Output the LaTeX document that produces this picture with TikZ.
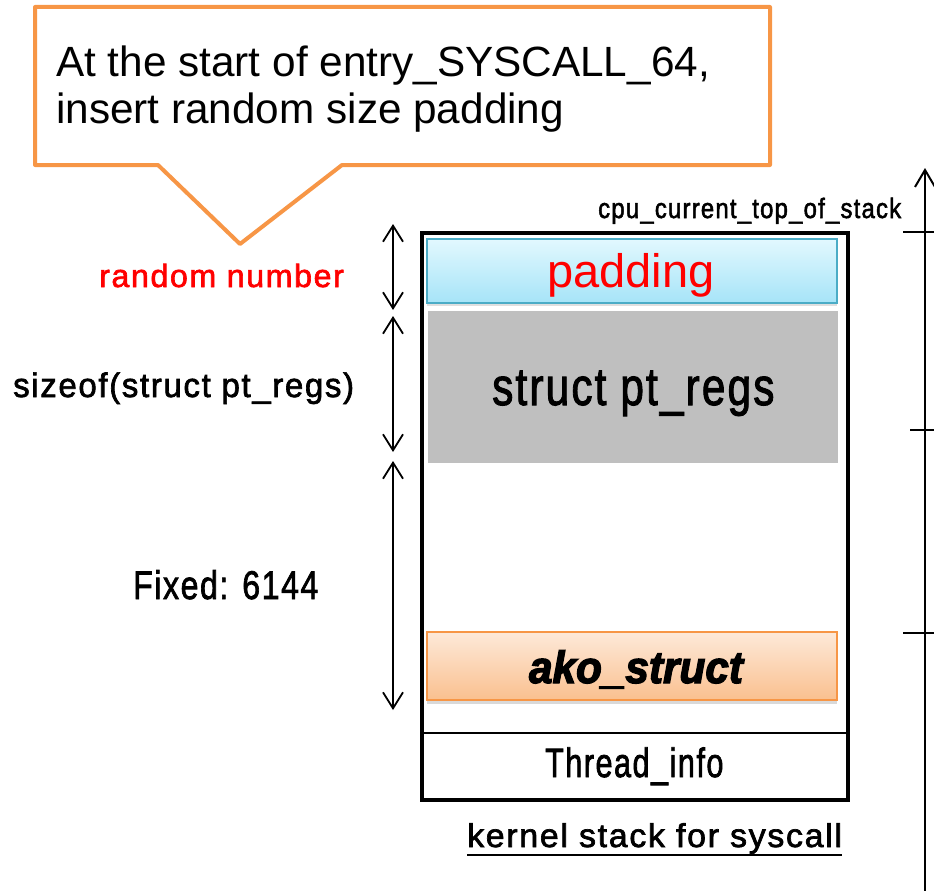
\documentclass[tikz,border=0pt]{standalone}
\usepackage{fontspec}
\usepackage{graphicx}
\setmainfont{Liberation Sans}
% heavier, loosely spaced face for the gothic-style labels
\newfontfamily\gothic[FakeBold=2,LetterSpace=5]{Liberation Sans}
\newfontfamily\gothicheavy[FakeBold=3]{Liberation Sans}
\usetikzlibrary{arrows.meta,shadows}

% horizontal stretch of a label and a font size in points
\newcommand\stretchx[2]{\scalebox{#1}[1]{#2}}
\newcommand\fsz[1]{\fontsize{#1}{#1}\selectfont}

\definecolor{calloutorange}{HTML}{F79646}
\definecolor{padborder}{HTML}{4BACC6}
\definecolor{padtop}{HTML}{E2F8FE}
\definecolor{padbottom}{HTML}{A6E4F8}
\definecolor{regsgray}{HTML}{BFBFBF}
\definecolor{akotop}{HTML}{FDE9D9}
\definecolor{akobottom}{HTML}{FAC08F}

\begin{document}
\begin{tikzpicture}[x=1pt,y=-1pt,
  lbl/.style={inner sep=0pt},
  dimline/.style={line width=1.8pt,{Straight Barb[length=16pt,width=20pt]}-{Straight Barb[length=16pt,width=20pt]}},
  axisline/.style={line width=2pt},
  stackbox/.style={draw=black,line width=4pt,minimum width=426pt,minimum height=567pt,inner sep=0pt},
  padbox/.style={draw=padborder,line width=1.8pt,top color=padtop,bottom color=padbottom,
    minimum width=410pt,minimum height=64pt,inner sep=0pt,
    drop shadow={opacity=0.25,shadow xshift=0pt,shadow yshift=-3pt}},
  regsbox/.style={fill=regsgray,minimum width=410pt,minimum height=152pt,inner sep=0pt},
  akobox/.style={draw=calloutorange,line width=1.8pt,top color=akotop,bottom color=akobottom,
    minimum width=410pt,minimum height=68pt,inner sep=0pt,
    drop shadow={opacity=0.3,shadow xshift=0pt,shadow yshift=-4pt}},
  callout/.style={draw=calloutorange,line width=4pt,fill=white,line join=round}
]
\useasboundingbox (0,0) rectangle (934,891);

% speech callout
\draw[callout] (35,7) -- (770,7) -- (770,165) -- (342,165) -- (240,244)
  -- (158,165) -- (35,165) -- cycle;
\node[lbl,anchor=base west,font=\fsz{42.3}] (note1) at (56,77) {At the start of entry\_SYSCALL\_64,};
\node[lbl,anchor=base west,font=\fsz{42.3}] (note2) at (56,123) {insert random size padding};

% kernel stack frame
\node[stackbox] (stack) at (635,516.5) {};
\node[padbox] (pad) at (632,271) {};
\node[lbl,anchor=base,font=\fsz{47},text=red] (padtext) at (631,287) {padding};
\node[regsbox] (regs) at (633,387) {};
\node[lbl,anchor=base west,font=\gothic\fsz{53}] (regstext) at (492,405) {\stretchx{0.80}{struct pt\_regs}};
\node[akobox] (ako) at (632,666) {};
\node[lbl,anchor=base,font=\gothicheavy\fsz{45}\bfseries\itshape] (akotext) at (636,683) {\stretchx{0.94}{ako\_struct}};
\coordinate (sepl) at (422,733);
\coordinate (sepr) at (848,733);
\draw[line width=1.8pt] (sepl) -- (sepr);
\node[lbl,anchor=base west,font=\gothic\fsz{41}] (tinfo) at (545,777) {\stretchx{0.745}{Thread\_info}};

% caption under the frame
\node[lbl,anchor=base west,font=\gothic\fsz{33}] (caption) at (467,847) {\stretchx{1.027}{kernel stack for syscall}};
\draw[line width=1.8pt] ([yshift=-8pt]caption.base west) -- ([yshift=-8pt]caption.base east);

% size markers on the left
\coordinate (d1a) at (393,224);
\coordinate (d1b) at (393,310);
\coordinate (d2a) at (393,316);
\coordinate (d2b) at (393,452);
\coordinate (d3a) at (393,461);
\coordinate (d3b) at (393,710);
\draw[dimline] (d1a) -- (d1b);
\draw[dimline] (d2a) -- (d2b);
\draw[dimline] (d3a) -- (d3b);

\node[lbl,anchor=base west,font=\gothic\fsz{32},text=red] (rnd) at (99,287) {\stretchx{1.005}{random number}};
\node[lbl,anchor=base west,font=\gothic\fsz{34}] (szof) at (13,397) {\stretchx{0.97}{sizeof(struct pt\_regs)}};
\node[lbl,anchor=base west,font=\gothic\fsz{40}] (fixed) at (133,599) {\stretchx{0.80}{Fixed: 6144}};

% address axis on the right
\coordinate (axbot) at (925,891);
\coordinate (axtop) at (925,168);
\draw[axisline,-{Straight Barb[length=17pt,width=20pt]}] (axbot) -- (axtop);
\coordinate (t1l) at (903,232);
\coordinate (t1r) at (934,232);
\coordinate (t2l) at (910,430);
\coordinate (t2r) at (934,430);
\coordinate (t3l) at (903,633);
\coordinate (t3r) at (934,633);
\draw[axisline] (t1l) -- (t1r);
\draw[axisline] (t2l) -- (t2r);
\draw[axisline] (t3l) -- (t3r);
\node[lbl,anchor=base west,font=\gothic\fsz{28}] (top) at (598,218) {\stretchx{0.855}{cpu\_current\_top\_of\_stack}};
\end{tikzpicture}
\end{document}
